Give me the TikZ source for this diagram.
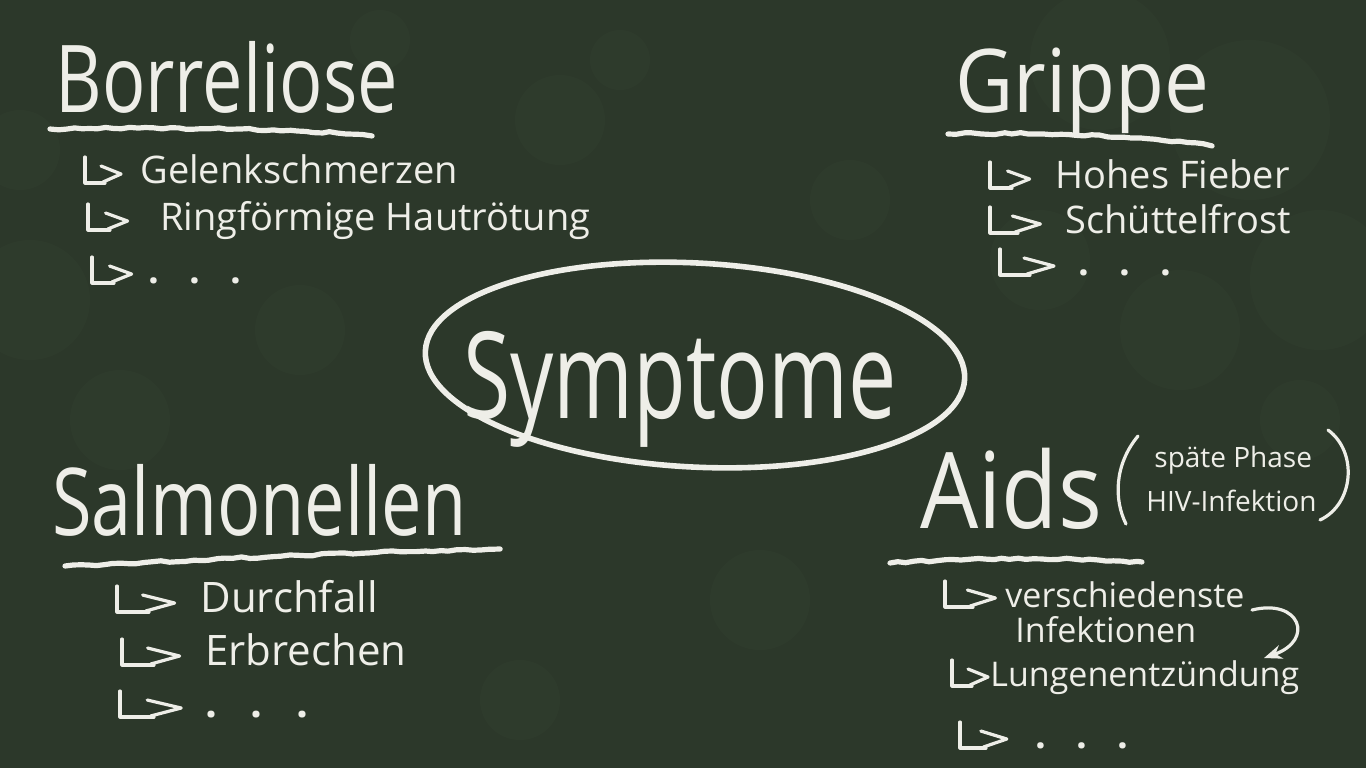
\documentclass[tikz,border=0pt]{standalone}
\usepackage{fontspec}
\usepackage{graphicx}
\setmainfont{Open Sans}
\usetikzlibrary{shapes.geometric,arrows.meta,decorations.pathmorphing}
\definecolor{board}{RGB}{44,56,42}
\definecolor{chalk}{RGB}{238,238,232}
\definecolor{blot}{RGB}{72,86,64}
\newcommand\chalkstretch[2][1.2]{\scalebox{1}[#1]{#2}}
\newcommand\chalkdots{\textbf{.\hspace{0.8em}.\hspace{0.8em}.}}
\tikzset{
  chalkline/.style={draw=chalk, line width=1.6pt, line cap=round, line join=round},
  underline/.style={chalkline, line width=2.6pt, decorate,
    decoration={random steps, segment length=4pt, amplitude=0.5pt}},
  heading/.style={text=chalk, inner sep=0pt, anchor=base west},
  item/.style={text=chalk, inner sep=0pt, anchor=base west, font=\fontsize{19}{22}\selectfont},
  aitem/.style={item, font=\fontsize{17}{20}\selectfont},
  sitem/.style={item, font=\fontsize{21}{24}\selectfont},
  hook/.pic={\draw[chalkline] (0,-26) -- (0,0) -- (20,0);
             \draw[chalkline] (16,-17) -- (36,-9) -- (18,-1);}
}
\begin{document}
\begin{tikzpicture}[x=0.5pt,y=-0.5pt]
\fill[board] (0,0) rectangle (1366,768);
\useasboundingbox (0,0) rectangle (1366,768);
% chalk dust blotches
\foreach \bx/\by/\br in {30/300/60, 120/420/50, 20/150/40, 560/120/45, 620/60/30,
  1100/60/70, 1250/120/80, 1320/280/70, 1180/330/60, 1040/260/50, 850/200/40,
  300/330/45, 760/600/50, 520/700/40, 1300/420/40, 380/40/30}
  \fill[blot, opacity=0.1] (\bx,\by) circle (\br);

% ---- Symptome ----
\node[draw=chalk, line width=2.8pt, ellipse, minimum width=270pt, minimum height=102pt,
  rotate=-3, inner sep=0pt] (ring) at (695,365) {};
\node[text=chalk, inner sep=0pt, anchor=base, font=\fontsize{43}{48}\selectfont]
  (symptome) at (680,418) {\chalkstretch[1.4]{Symptome}};

% ---- Borreliose ----
\node[heading, font=\fontsize{36}{40}\selectfont] (borr) at (55,112) {\chalkstretch[1.3]{Borreliose}};
\draw[underline] (50,129) .. controls (200,127) and (300,129) .. (372,136);
\pic at (85,183) {hook};
\node[item] (b1) at (140,183) {Gelenkschmerzen};
\pic[xscale=1.1] at (88,230) {hook};
\node[item] (b2) at (160,230) {Ringförmige Hautrötung};
\pic[xscale=1.1] at (92,283) {hook};
\node[item] (b3) at (148,283) {\chalkdots};

% ---- Grippe ----
\node[heading, font=\fontsize{40}{44}\selectfont] (grip) at (955,112) {\chalkstretch[1.1]{Grippe}};
\draw[underline] (948,134) .. controls (1050,132) and (1150,136) .. (1212,146);
\pic[xscale=1.1] at (990,188) {hook};
\node[item] (g1) at (1055,188) {Hohes Fieber};
\pic[xscale=1.4] at (990,233) {hook};
\node[item] (g2) at (1065,233) {Schüttelfrost};
\pic[xscale=1.5] at (1000,275) {hook};
\node[item] (g3) at (1078,275) {\chalkdots};

% ---- Salmonellen ----
\node[heading, font=\fontsize{36}{40}\selectfont] (salm) at (52,535) {\chalkstretch[1.3]{Salmonellen}};
\draw[underline] (65,566) .. controls (200,560) and (350,552) .. (500,549);
\pic[xscale=1.6] at (117,612) {hook};
\node[sitem] (s1) at (200,612) {Durchfall};
\pic[xscale=1.6] at (122,665) {hook};
\node[sitem] (s2) at (205,665) {Erbrechen};
\pic[xscale=1.7] at (120,717) {hook};
\node[sitem] (s3) at (205,717) {\chalkdots};

% ---- Aids ----
\node[heading, font=\fontsize{46}{50}\selectfont] (aids) at (920,528) {\chalkstretch[1.15]{Aids}};
\node[heading, font=\fontsize{14}{17}\selectfont] (phase) at (1154,467) {späte Phase};
\node[heading, font=\fontsize{14}{17}\selectfont] (hiv) at (1146,511) {HIV-Infektion};
\draw[chalkline] (1138,436) .. controls (1114,465) and (1114,500) .. (1126,524);
\draw[chalkline] (1328,430) .. controls (1358,452) and (1354,504) .. (1320,520);
\draw[underline] (890,563) .. controls (980,558) and (1060,557) .. (1142,562);
\pic[xscale=1.4] at (945,607) {hook};
\node[aitem] (a1) at (1005,607) {verschiedenste};
\node[aitem] (a1b) at (1015,642) {Infektionen};
\pic at (952,686) {hook};
\node[aitem] (a2) at (990,686) {Lungenentzündung};
\pic[xscale=1.3] at (960,748) {hook};
\node[item] (a3) at (1035,748) {\chalkdots};
\coordinate (arrstart) at (1252,610);
\coordinate (arrend) at (1264,658);
\draw[chalkline, -{Stealth[length=9pt, width=7pt]}] (arrstart)
  .. controls (1300,598) and (1315,640) .. (arrend);
\end{tikzpicture}
\end{document}
